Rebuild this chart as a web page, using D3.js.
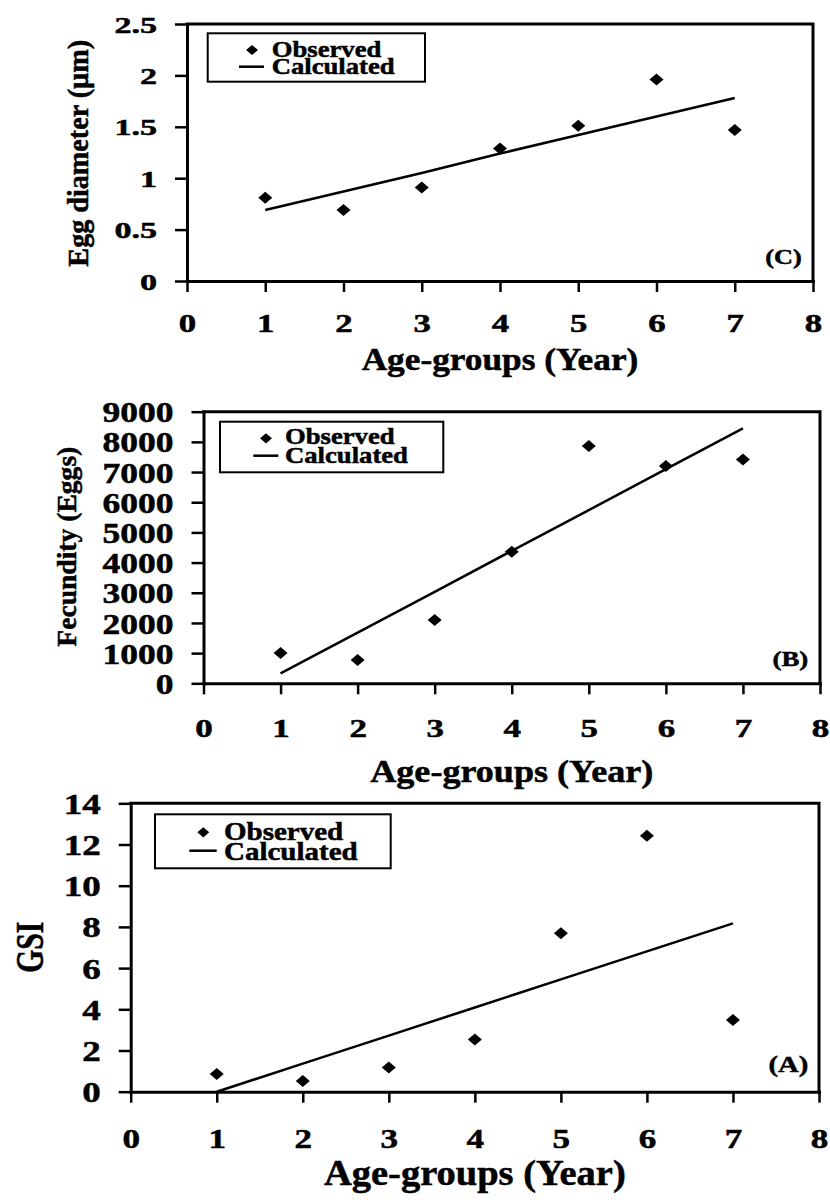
<!DOCTYPE html>
<html>
<head>
<meta charset="utf-8">
<script src="https://cdn.jsdelivr.net/npm/d3@7"></script>
<style>
  body { margin: 0; background: #fff; }
  text { font-family: "Liberation Serif", "Times New Roman", serif; font-weight: bold; fill: #000;
         stroke: #000; stroke-width: 0.5px; }
</style>
</head>
<body>
<div id="chart"></div>
<script>
// ages on the x axis
const ages = [1, 2, 3, 4, 5, 6, 7];
const xTicks = [0, 1, 2, 3, 4, 5, 6, 7, 8];

// (C) egg diameter
const eggObserved = [0.81, 0.69, 0.91, 1.29, 1.51, 1.96, 1.47];
const eggCalculated = [0.69, 0.87, 1.05, 1.24, 1.42, 1.60, 1.78];
const eggTicks = [0, 0.5, 1, 1.5, 2, 2.5];

// (B) fecundity
const fecObserved = [1000, 770, 2100, 4360, 7860, 7200, 7420];
const fecCalculated = [330, 1680, 3030, 4390, 5740, 7100, 8450];
const fecTicks = [0, 1000, 2000, 3000, 4000, 5000, 6000, 7000, 8000, 9000];

// (A) GSI
const gsiObserved = [0.86, 0.52, 1.17, 2.54, 7.69, 12.43, 3.48];
const gsiCalculated = [0, 1.36, 2.72, 4.09, 5.45, 6.81, 8.17];
const gsiTicks = [0, 2, 4, 6, 8, 10, 12, 14];

const xTitle = "Age-groups (Year)";
const legendLabels = ["Observed", "Calculated"];

const svg = d3.select("#chart").append("svg")
  .attr("width", 830)
  .attr("height", 1200);

// stretched text helper (the original lettering is wider than Times)
function addText(parent, str, x, y, size, sx, anchor) {
  return parent.append("g")
    .attr("transform", `translate(${x},${y}) scale(${sx},1)`)
    .append("text")
    .attr("font-size", size)
    .attr("text-anchor", anchor || "start")
    .text(str);
}

const diamond = "M0,-6L7,0L0,6L-7,0Z";

function drawPanel(p) {
  const x = d3.scaleLinear().domain([0, 8]).range([p.left, p.right]);
  const y = d3.scaleLinear().domain([0, p.yMax]).range([p.bottom, p.top]);
  const g = svg.append("g");

  // top + right frame
  g.append("path")
    .attr("d", `M${p.left},${p.top}H${p.right}V${p.bottom}`)
    .attr("fill", "none")
    .attr("stroke", "#000")
    .attr("stroke-width", 3)
    .attr("stroke-linecap", "square");

  // x axis
  const xAxis = g.append("g")
    .attr("transform", `translate(0,${p.bottom})`)
    .call(d3.axisBottom(x).tickValues(xTicks).tickSize(11).tickSizeOuter(0).tickFormat(d => d));
  xAxis.select(".domain").attr("stroke-width", 3).attr("stroke-linecap", "square");
  xAxis.selectAll(".tick line").attr("stroke-width", 2.5);
  xAxis.selectAll(".tick text")
    .attr("font-size", p.xTickSize)
    .attr("y", p.xTickBase)
    .attr("dy", null)
    .attr("transform", `scale(${p.xTickSx},1)`);

  // y axis
  const yAxis = g.append("g")
    .attr("transform", `translate(${p.left},0)`)
    .call(d3.axisLeft(y).tickValues(p.yTicks).tickSize(12).tickSizeOuter(0).tickFormat(d => d));
  yAxis.select(".domain").attr("stroke-width", 3).attr("stroke-linecap", "square");
  yAxis.selectAll(".tick line").attr("stroke-width", 2.5);
  yAxis.selectAll(".tick text")
    .attr("font-size", p.yTickSize)
    .attr("x", -30 / p.yTickSx)
    .attr("dy", "0.34em")
    .attr("transform", `scale(${p.yTickSx},1)`);

  // regression line
  const line = d3.line().x((d, i) => x(ages[i])).y(d => y(d));
  g.append("path")
    .datum(p.calculated)
    .attr("d", line)
    .attr("fill", "none")
    .attr("stroke", "#000")
    .attr("stroke-width", 2.5);

  // observed points
  g.selectAll(".obs")
    .data(p.observed)
    .join("path")
    .attr("class", "obs")
    .attr("d", diamond)
    .attr("transform", (d, i) => `translate(${x(ages[i])},${y(d)})`)
    .attr("fill", "#000");

  // axis titles
  g.append("text")
    .attr("transform", `translate(${p.yTitleX},${p.yTitleY}) rotate(-90)`)
    .attr("text-anchor", "middle")
    .attr("font-size", p.yTitleSize)
    .attr("textLength", p.yTitleLen)
    .attr("lengthAdjust", "spacingAndGlyphs")
    .text(p.yTitle);

  g.append("text")
    .attr("x", (p.left + p.right) / 2)
    .attr("y", p.xTitleY)
    .attr("text-anchor", "middle")
    .attr("font-size", p.xTitleSize)
    .attr("textLength", p.xTitleLen)
    .attr("lengthAdjust", "spacingAndGlyphs")
    .text(xTitle);

  // panel letter
  addText(g, p.label, p.labelX, p.labelY, p.labelSize, 1.25, "end");

  // legend
  const lg = p.legend;
  g.append("rect")
    .attr("x", lg.box[0]).attr("y", lg.box[1])
    .attr("width", lg.box[2] - lg.box[0]).attr("height", lg.box[3] - lg.box[1])
    .attr("fill", "#fff").attr("stroke", "#000").attr("stroke-width", 2);
  g.append("path")
    .attr("d", diamond)
    .attr("transform", `translate(${lg.mark[0]},${lg.mark[1]}) scale(0.85)`)
    .attr("fill", "#000");
  g.append("line")
    .attr("x1", lg.line[0]).attr("x2", lg.line[1])
    .attr("y1", lg.line[2]).attr("y2", lg.line[2])
    .attr("stroke", "#000").attr("stroke-width", 2.5);
  legendLabels.forEach((t, i) => addText(g, t, lg.textX, lg.base[i], lg.size, 1.16));
}

drawPanel({
  label: "(C)", labelX: 801.7, labelY: 264, labelSize: 21,
  left: 187, right: 813, top: 24, bottom: 281, yMax: 2.5,
  yTicks: eggTicks, observed: eggObserved, calculated: eggCalculated,
  yTickSize: 24, yTickSx: 1.42, xTickSize: 24.5, xTickSx: 1.42, xTickBase: 50.7,
  yTitle: "Egg diameter (µm)", yTitleX: 88.3, yTitleY: 153.3, yTitleLen: 226.7, yTitleSize: 28.5,
  xTitleY: 370, xTitleLen: 276.7, xTitleSize: 31,
  legend: { box: [207.7, 33.3, 425, 81.7], mark: [252, 50], line: [239, 264, 66.7],
            textX: 271.7, base: [57.3, 74], size: 23 }
});

drawPanel({
  label: "(B)", labelX: 808.3, labelY: 666, labelSize: 21.5,
  left: 203.5, right: 820, top: 411.7, bottom: 683.3, yMax: 9000,
  yTicks: fecTicks, observed: fecObserved, calculated: fecCalculated,
  yTickSize: 29.6, yTickSx: 1.2, xTickSize: 25, xTickSx: 1.4, xTickBase: 53.4,
  yTitle: "Fecundity (Eggs)", yTitleX: 76, yTitleY: 546.7, yTitleLen: 200, yTitleSize: 28,
  xTitleY: 782, xTitleLen: 283, xTitleSize: 32,
  legend: { box: [220, 421.7, 443.3, 472.3], mark: [266, 438.3], line: [253.3, 278.3, 455.7],
            textX: 285, base: [444.3, 463.3], size: 23 }
});

drawPanel({
  label: "(A)", labelX: 808.3, labelY: 1072, labelSize: 23,
  left: 130.7, right: 819, top: 803.3, bottom: 1091.7, yMax: 14,
  yTicks: gsiTicks, observed: gsiObserved, calculated: gsiCalculated,
  yTickSize: 29.6, yTickSx: 1.25, xTickSize: 27, xTickSx: 1.3, xTickBase: 56.6,
  yTitle: "GSI", yTitleX: 43.3, yTitleY: 947.2, yTitleLen: 51, yTitleSize: 40,
  xTitleY: 1185, xTitleLen: 301.7, xTitleSize: 35,
  legend: { box: [155, 814.3, 390.7, 868.3], mark: [203.3, 832.3], line: [189.3, 216.7, 850.7],
            textX: 224, base: [840, 860], size: 25 }
});
</script>
</body>
</html>
